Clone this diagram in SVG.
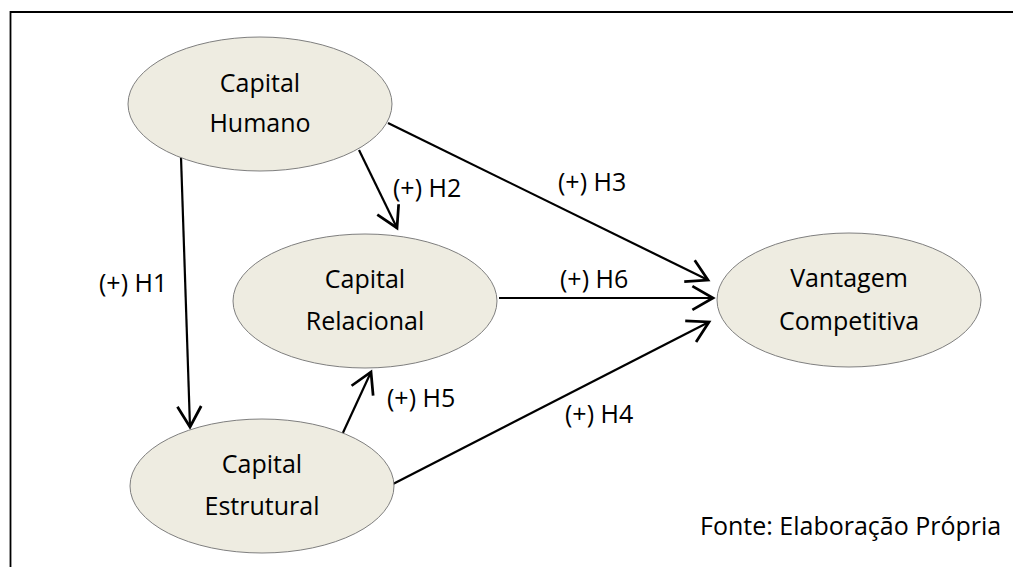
<svg xmlns="http://www.w3.org/2000/svg" width="1013" height="567" viewBox="0 0 1013 567">
<style>
.node ellipse{fill:#EEECE1;stroke:#7f7f7f;stroke-width:1}
.lbl{font-family:"Open Sans","Noto Sans","DejaVu Sans",sans-serif;font-size:25px;fill:#000}
.node text{text-anchor:middle}
#connectors line{stroke:#000;stroke-width:2.2;fill:none;marker-end:url(#arr)}
</style>
<defs>
<marker id="arr" markerUnits="userSpaceOnUse" markerWidth="30" markerHeight="30" viewBox="-20 -12 22 24" refX="0" refY="0" orient="auto" overflow="visible">
<path d="M -16.5 -9.5 L 0 0 L -16.5 9.5" fill="none" stroke="#000" stroke-width="2.2" stroke-linejoin="miter"/>
</marker>
</defs>
<rect width="1013" height="567" fill="#fff"/>
<path d="M 10.5 567 V 12 H 1013" fill="none" stroke="#000" stroke-width="1.8"/>
<g id="connectors">
<line x1="181" y1="157" x2="190" y2="427"/>
<line x1="359" y1="150" x2="397" y2="228"/>
<line x1="388" y1="123" x2="708" y2="280"/>
<line x1="499" y1="298" x2="713" y2="298"/>
<line x1="393" y1="484" x2="709" y2="322"/>
<line x1="341" y1="437" x2="371" y2="372"/>
</g>
<g id="labels">
<text class="lbl" x="99" y="292">(+) H1</text>
<text class="lbl" x="393" y="197">(+) H2</text>
<text class="lbl" x="558" y="191">(+) H3</text>
<text class="lbl" x="565" y="423">(+) H4</text>
<text class="lbl" x="387" y="407">(+) H5</text>
<text class="lbl" x="560" y="288">(+) H6</text>
<text class="lbl" x="700" y="535">Fonte: Elaboração Própria</text>
</g>
<g id="capital-humano" class="node">
<ellipse cx="260" cy="104" rx="132" ry="67"/>
<text class="lbl" x="260" y="92">Capital</text>
<text class="lbl" x="260" y="132">Humano</text>
</g>
<g id="capital-relacional" class="node">
<ellipse cx="365" cy="301" rx="132" ry="67"/>
<text class="lbl" x="365" y="288">Capital</text>
<text class="lbl" x="365" y="330">Relacional</text>
</g>
<g id="capital-estrutural" class="node">
<ellipse cx="262" cy="486" rx="132" ry="67"/>
<text class="lbl" x="262" y="473">Capital</text>
<text class="lbl" x="262" y="515">Estrutural</text>
</g>
<g id="vantagem-competitiva" class="node">
<ellipse cx="849" cy="300" rx="132" ry="67"/>
<text class="lbl" x="849" y="287">Vantagem</text>
<text class="lbl" x="849" y="330">Competitiva</text>
</g>
</svg>
